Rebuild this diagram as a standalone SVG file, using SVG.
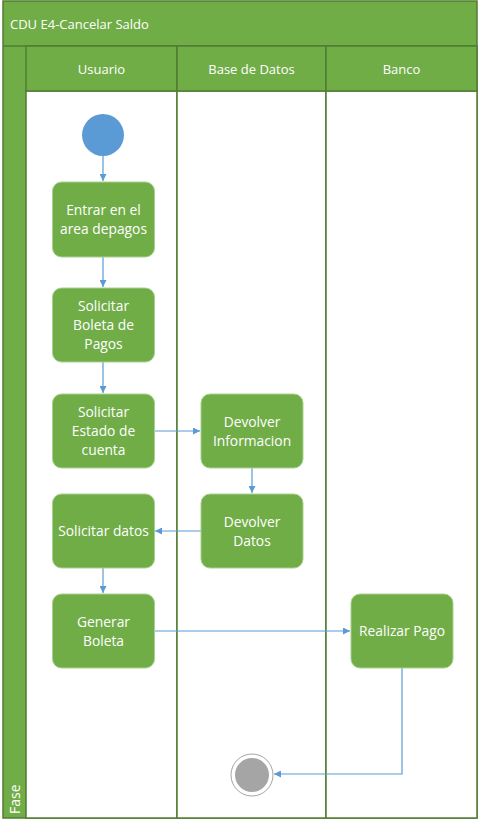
<svg xmlns="http://www.w3.org/2000/svg" width="478" height="825" viewBox="0 0 478 825">
<defs>
<style>
.frame{fill:#70AD47;stroke:#507E32;stroke-width:1.5}
.lane{fill:#FFFFFF;stroke:#507E32;stroke-width:1.5}
.hdr{fill:#70AD47;stroke:#507E32;stroke-width:1.5}
.act{fill:#70AD47;stroke:#A9D18E;stroke-width:1}
.t{font-family:"Open Sans","Liberation Sans",sans-serif;font-size:13.8px;fill:#FFFFFF;text-anchor:middle}
.ht{font-family:"Open Sans","Liberation Sans",sans-serif;font-size:13px;fill:#FFFFFF;text-anchor:middle}
.c{fill:none;stroke:#5B9BD5;stroke-width:1.2}
</style>
<marker id="ah" viewBox="0 0 10 10" refX="10" refY="5" markerWidth="7" markerHeight="7" orient="auto" markerUnits="userSpaceOnUse">
<path d="M0,0 L10,5 L0,10 z" fill="#5B9BD5"/>
</marker>
</defs>
<g id="pool">
<rect class="frame" x="3" y="1" width="474" height="817"/>
<text x="10" y="29" font-family="'Open Sans','Liberation Sans',sans-serif" font-size="13px" fill="#FFFFFF">CDU E4-Cancelar Saldo</text>
<line x1="3" y1="46" x2="477" y2="46" stroke="#507E32" stroke-width="1.5"/>
<text transform="translate(20,814) rotate(-90)" font-family="'Open Sans','Liberation Sans',sans-serif" font-size="14px" fill="#FFFFFF">Fase</text>
</g>
<g id="lane-usuario">
<rect class="lane" x="26" y="91" width="151" height="727"/>
<rect class="hdr" x="26" y="46" width="151" height="45"/>
<text class="ht" x="101.5" y="74">Usuario</text>
</g>
<g id="lane-bd">
<rect class="lane" x="177" y="91" width="149" height="727"/>
<rect class="hdr" x="177" y="46" width="149" height="45"/>
<text class="ht" x="251.5" y="74">Base de Datos</text>
</g>
<g id="lane-banco">
<rect class="lane" x="326" y="91" width="151" height="727"/>
<rect class="hdr" x="326" y="46" width="151" height="45"/>
<text class="ht" x="401.5" y="74">Banco</text>
</g>
<g id="connectors">
<line class="c" x1="103" y1="156" x2="103" y2="181" marker-end="url(#ah)"/>
<line class="c" x1="103" y1="257" x2="103" y2="287" marker-end="url(#ah)"/>
<line class="c" x1="103" y1="362" x2="103" y2="393" marker-end="url(#ah)"/>
<line class="c" x1="154" y1="431" x2="200" y2="431" marker-end="url(#ah)"/>
<line class="c" x1="252" y1="468" x2="252" y2="493" marker-end="url(#ah)"/>
<line class="c" x1="201" y1="531" x2="155" y2="531" marker-end="url(#ah)"/>
<line class="c" x1="103" y1="568" x2="103" y2="593" marker-end="url(#ah)"/>
<line class="c" x1="154" y1="631" x2="350" y2="631" marker-end="url(#ah)"/>
<polyline class="c" points="402,668 402,774 274,774" marker-end="url(#ah)"/>
</g>
<g id="start">
<circle cx="103" cy="135" r="21" fill="#5B9BD5"/>
</g>
<g id="n1">
<rect class="act" x="52.5" y="182" width="102" height="75" rx="9"/>
<text class="t" x="103.5" y="215">Entrar en el</text>
<text class="t" x="103.5" y="234">area depagos</text>
</g>
<g id="n2">
<rect class="act" x="52.5" y="288" width="102" height="74" rx="9"/>
<text class="t" x="103.5" y="311">Solicitar</text>
<text class="t" x="103.5" y="330">Boleta de</text>
<text class="t" x="103.5" y="349">Pagos</text>
</g>
<g id="n3">
<rect class="act" x="52.5" y="394" width="102" height="74" rx="9"/>
<text class="t" x="103.5" y="417">Solicitar</text>
<text class="t" x="103.5" y="436">Estado de</text>
<text class="t" x="103.5" y="455">cuenta</text>
</g>
<g id="n4">
<rect class="act" x="52.5" y="494" width="102" height="74" rx="9"/>
<text class="t" x="103.5" y="536">Solicitar datos</text>
</g>
<g id="n5">
<rect class="act" x="52.5" y="594" width="102" height="74" rx="9"/>
<text class="t" x="103.5" y="627">Generar</text>
<text class="t" x="103.5" y="646">Boleta</text>
</g>
<g id="n6">
<rect class="act" x="201" y="394" width="102" height="74" rx="9"/>
<text class="t" x="252" y="427">Devolver</text>
<text class="t" x="252" y="446">Informacion</text>
</g>
<g id="n7">
<rect class="act" x="201" y="494" width="102" height="74" rx="9"/>
<text class="t" x="252" y="527">Devolver</text>
<text class="t" x="252" y="546">Datos</text>
</g>
<g id="n8">
<rect class="act" x="351" y="594" width="102" height="74" rx="9"/>
<text class="t" x="402" y="636">Realizar Pago</text>
</g>
<g id="end">
<circle cx="252" cy="775" r="21" fill="#FFFFFF" stroke="#A5A5A5" stroke-width="1"/>
<circle cx="252" cy="775" r="17" fill="#A5A5A5"/>
</g>
</svg>
